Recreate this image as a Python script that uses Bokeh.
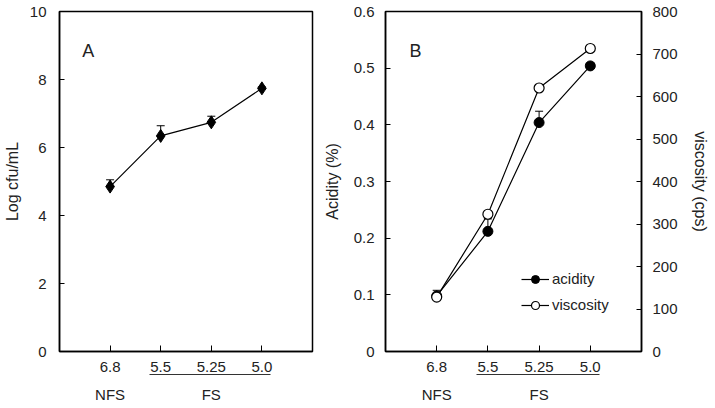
from bokeh.plotting import figure
from bokeh.models import (Range1d, LinearAxis, FixedTicker, Whisker, TeeHead,
                          ColumnDataSource, Legend, LegendItem, Label)
from bokeh.layouts import row
from bokeh.embed import file_html
from bokeh.resources import INLINE

# ---------------- data ----------------
ph_labels = ["6.8", "5.5", "5.25", "5.0"]
ph_groups = ["NFS", "FS", "FS", "FS"]
group_labels = ["NFS", "FS"]
log_cfu = [4.85, 6.34, 6.74, 7.74]
log_cfu_err = [0.20, 0.30, 0.18, 0.04]
acidity = [0.098, 0.212, 0.404, 0.504]
acidity_err = [0.010, 0.022, 0.020, 0.004]
viscosity = [128, 323, 620, 713]
cfu_ticks = [0, 2, 4, 6, 8, 10]
acid_ticks = [0, 0.1, 0.2, 0.3, 0.4, 0.5, 0.6]
visc_ticks = [0, 100, 200, 300, 400, 500, 600, 700, 800]

xs = list(range(1, len(ph_labels) + 1))
group_pos = [sum(x for x, g in zip(xs, ph_groups) if g == gl) /
             sum(1 for g in ph_groups if g == gl) for gl in group_labels]
fs_members = [x for x, g in zip(xs, ph_groups) if g == "FS"]

FONT = "Liberation Sans"
TXT = "#222222"
FS = "15px"
TITLE_FS = "16px"


def style_y_axis(ax, ticks, standoff, overrides=None):
    ax.ticker = FixedTicker(ticks=ticks)
    if overrides:
        ax.major_label_overrides = overrides
    ax.major_tick_out = 0
    ax.major_tick_in = 5
    ax.minor_tick_line_color = None
    ax.axis_line_color = "black"
    ax.axis_line_width = 1.5
    ax.major_tick_line_width = 1
    ax.major_label_text_font = FONT
    ax.major_label_text_font_size = FS
    ax.major_label_text_color = TXT
    ax.major_label_standoff = standoff
    ax.axis_label_text_font = FONT
    ax.axis_label_text_font_size = TITLE_FS
    ax.axis_label_text_font_style = "normal"
    ax.axis_label_text_color = TXT


def make_fig(width, left, right):
    p = figure(width=width, height=408, x_range=Range1d(0, 5),
               min_border_left=left, min_border_right=right,
               min_border_top=11, min_border_bottom=57,
               output_backend="svg", toolbar_location=None,
               background_fill_color="white", border_fill_color="white")
    p.outline_line_color = "black"
    p.outline_line_width = 1.5
    p.outline_line_alpha = 1
    p.xgrid.visible = False
    p.ygrid.visible = False

    ax = p.xaxis[0]
    ax.ticker = FixedTicker(ticks=xs)
    ax.major_label_overrides = {x: l for x, l in zip(xs, ph_labels)}
    ax.major_tick_in = 6
    ax.major_tick_out = 0
    ax.minor_tick_line_color = None
    ax.axis_line_width = 1.5
    ax.axis_line_color = "black"
    ax.major_label_text_font = FONT
    ax.major_label_text_font_size = FS
    ax.major_label_text_color = TXT
    ax.major_label_standoff = 10

    line_ax = LinearAxis(bounds=(min(fs_members) - 0.22, max(fs_members) + 0.17),
                         ticker=FixedTicker(ticks=[]))
    line_ax.major_tick_in = 0
    line_ax.major_tick_out = 0
    line_ax.minor_tick_line_color = None
    line_ax.major_label_standoff = 0
    line_ax.axis_line_color = "#333333"
    line_ax.axis_line_width = 1
    p.add_layout(line_ax, "below")

    g_ax = LinearAxis(ticker=FixedTicker(ticks=group_pos),
                      major_label_overrides={gp: gl for gp, gl in zip(group_pos, group_labels)})
    g_ax.axis_line_color = None
    g_ax.major_tick_line_color = None
    g_ax.minor_tick_line_color = None
    g_ax.major_tick_in = 0
    g_ax.major_tick_out = 0
    g_ax.major_label_standoff = 11
    g_ax.major_label_text_font = FONT
    g_ax.major_label_text_font_size = FS
    g_ax.major_label_text_color = TXT
    p.add_layout(g_ax, "below")
    return p


# ---------------- panel A ----------------
pa = make_fig(320, 55, 8)
pa.y_range = Range1d(0, 10)
style_y_axis(pa.yaxis[0], cfu_ticks, 13)
pa.yaxis[0].axis_label = "Log cfu/mL"
pa.yaxis[0].axis_label_standoff = 6

src_a = ColumnDataSource(dict(x=xs, y=log_cfu,
                              up=[v + e for v, e in zip(log_cfu, log_cfu_err)]))
pa.add_layout(Whisker(base="x", lower="y", upper="up", source=src_a,
                      dimension="height", line_color="black", line_width=1,
                      upper_head=TeeHead(size=8, line_color="black", line_width=1),
                      lower_head=None))
pa.line("x", "y", source=src_a, line_color="black", line_width=1.2)
pa.scatter("x", "y", source=src_a, marker="diamond", size=13,
           fill_color="black", line_color="black")
pa.add_layout(Label(x=0.45, y=8.85, text="A", text_font=FONT,
                    text_font_size="18px", text_color=TXT,
                    text_baseline="middle"))

# ---------------- panel B ----------------
pb = make_fig(395, 64, 74)
pb.y_range = Range1d(0, 0.6)
pb.extra_y_ranges = {"visc": Range1d(0, 800)}
style_y_axis(pb.yaxis[0], acid_ticks, 11, {0: "0"})
pb.yaxis[0].axis_label = "Acidity (%)"
pb.yaxis[0].axis_label_standoff = 10

r_ax = LinearAxis(y_range_name="visc")
style_y_axis(r_ax, visc_ticks, 11)
r_ax.axis_label = "viscosity (cps)"
r_ax.axis_label_standoff = 11
pb.add_layout(r_ax, "right")

src_b = ColumnDataSource(dict(x=xs, y=acidity,
                              up=[v + e for v, e in zip(acidity, acidity_err)]))
src_v = ColumnDataSource(dict(x=xs, y=viscosity))
pb.add_layout(Whisker(base="x", lower="y", upper="up", source=src_b,
                      dimension="height", line_color="black", line_width=1,
                      upper_head=TeeHead(size=8, line_color="black", line_width=1),
                      lower_head=None))
la = pb.line("x", "y", source=src_b, line_color="black", line_width=1.2)
ca = pb.scatter("x", "y", source=src_b, marker="circle", size=10,
                fill_color="black", line_color="black")
lv = pb.line("x", "y", source=src_v, y_range_name="visc",
             line_color="black", line_width=1.2)
cv = pb.scatter("x", "y", source=src_v, y_range_name="visc", marker="circle",
                size=10, fill_color="white", line_color="black", line_width=1.2)
pb.add_layout(Label(x=0.47, y=0.531, text="B", text_font=FONT,
                    text_font_size="18px", text_color=TXT,
                    text_baseline="middle"))

legend = Legend(items=[LegendItem(label="acidity", renderers=[la, ca]),
                       LegendItem(label="viscosity", renderers=[lv, cv])],
                location=(136, 35), glyph_width=28, glyph_height=20,
                label_height=23, spacing=3, padding=0, margin=0,
                label_standoff=3, border_line_color=None,
                background_fill_alpha=0,
                label_text_font=FONT, label_text_font_size=FS,
                label_text_color=TXT)
pb.add_layout(legend)

layout = row(pa, pb, spacing=0)
open("out.html", "w").write(file_html(layout, INLINE))
